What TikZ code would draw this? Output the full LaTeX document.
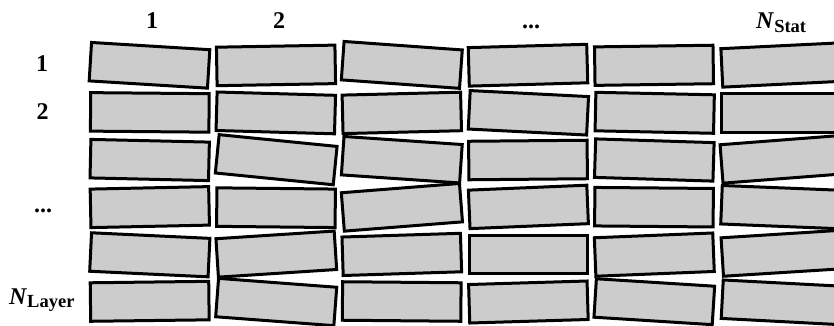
\documentclass[tikz,border=0pt]{standalone}
\usepackage{fontspec}
\setmainfont{Liberation Serif}
\begin{document}
\begin{tikzpicture}[x=1pt,y=-1pt,
  blk/.style={draw=black, fill=gray!40, line width=3pt, minimum width=118.5pt, minimum height=38.5pt, inner sep=0pt, outer sep=0pt},
  lbl/.style={font=\fontsize{24}{24}\selectfont\bfseries, inner sep=0pt}]
\useasboundingbox (0,0) rectangle (834,325);
\begin{scope}
\clip (0,0) rectangle (834,325);
\foreach \n/\x/\y/\a in {
  r1c1/149.5/65.3/3.5, r1c2/276/65.4/-1, r1c3/401.8/64.9/4.1, r1c4/528/65.2/-1.6, r1c5/654/65.3/-0.8, r1c6/781/65/-2.8,
  r2c1/149.8/112.4/0.5, r2c2/275.8/112.9/1.6, r2c3/401.8/112.9/-1.4, r2c4/528.4/112.8/2.9, r2c5/654.7/112.8/1.2, r2c6/780.8/113.2/0,
  r3c1/149.7/160/1.3, r3c2/276.2/159.7/5.7, r3c3/401.8/159.7/3.9, r3c4/528/160/-0.5, r3c5/654.3/160/1.8, r3c6/780.6/159.4/-4.4,
  r4c1/149.8/207.1/-1.2, r4c2/276/207.7/0.6, r4c3/401.9/207.3/-4.5, r4c4/528.4/206.9/-2.4, r4c5/654/207.2/0.5, r4c6/780.7/207.1/2.3,
  r5c1/149.8/254.8/2.7, r5c2/276.3/254.1/-3.7, r5c3/401.8/254.4/-1.8, r5c4/528.4/254.5/0, r5c5/654.3/254.6/-2.3, r5c6/781.4/253.3/-3.6,
  r6c1/149.7/301.3/-0.7, r6c2/276.2/302/4.3, r6c3/401.7/301.5/0.5, r6c4/528.4/302/-1.7, r6c5/654.3/301.7/3.6, r6c6/781.4/302.3/3}
  \node[blk, rotate=-\a] (\n) at (\x,\y) {};
\end{scope}
% column labels
\node[lbl, anchor=base] (col1) at (152,28) {1};
\node[lbl, anchor=base] (col2) at (279,28) {2};
\node[lbl, anchor=base] (coldots) at (531,28) {...};
\node[lbl, anchor=base west] (colN) at (756,28.5) {\textit{N}\raisebox{-3.5pt}{\fontsize{18.5}{18.5}\selectfont Stat}};
% row labels
\node[lbl, anchor=base] (row1) at (42,71.5) {1};
\node[lbl, anchor=base] (row2) at (42.5,119) {2};
\node[lbl, anchor=base] (rowdots) at (43,212) {...};
\node[lbl, anchor=base west] (rowN) at (9,304) {\textit{N}\raisebox{-3.5pt}{\fontsize{18.5}{18.5}\selectfont Layer}};
\end{tikzpicture}
\end{document}
